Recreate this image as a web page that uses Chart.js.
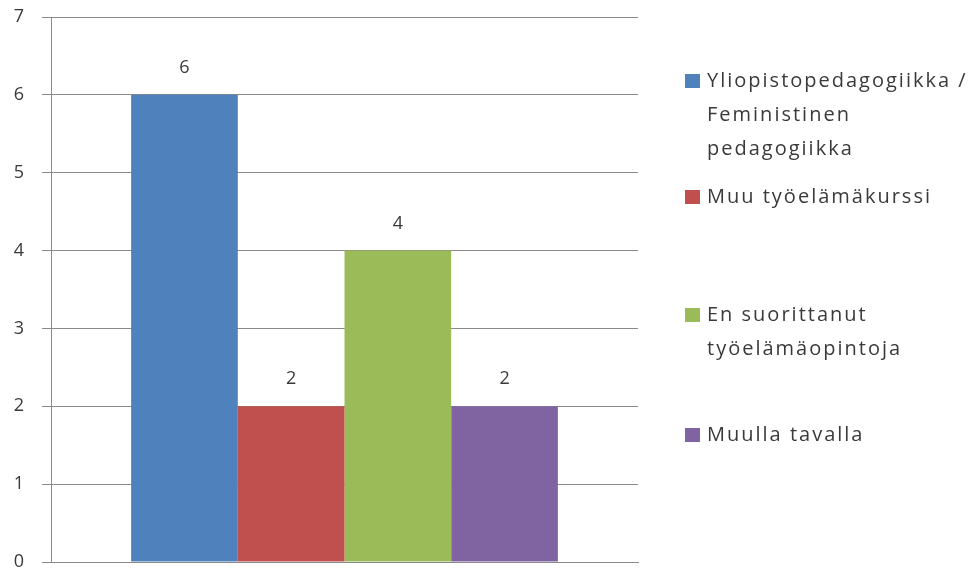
<!DOCTYPE html>
<html>
<head>
<meta charset="utf-8">
<script src="https://cdn.jsdelivr.net/npm/chart.js@4"></script>
<style>
  html,body{margin:0;padding:0;background:#fff;}
  #wrap{width:974px;height:568px;position:relative;}
</style>
</head>
<body>
<div id="wrap"><canvas id="barChart" width="974" height="568"></canvas></div>
<script>
// data
const categories = [''];
const seriesNames = [
  ['Yliopistopedagogiikka /', 'Feministinen', 'pedagogiikka'],
  ['Muu työelämäkurssi'],
  ['En suorittanut', 'työelämäopintoja'],
  ['Muulla tavalla']
];
const seriesValues = [[6], [2], [4], [2]];
const seriesColors = ['#4F81BD', '#C0504D', '#9BBB59', '#8064A2'];
const yTicks = [0, 1, 2, 3, 4, 5, 6, 7];

const textColor = '#3a3a3a';
const gridColor = '#8a8a8a';
const fontFamily = '"Open Sans", Lato, sans-serif';

// value above each bar
const barLabels = {
  id: 'barLabels',
  afterDatasetsDraw(chart){
    const ctx = chart.ctx;
    ctx.save();
    ctx.fillStyle = textColor;
    ctx.font = '18px ' + fontFamily;
    ctx.textAlign = 'center';
    ctx.textBaseline = 'middle';
    chart.data.datasets.forEach((ds, i) => {
      chart.getDatasetMeta(i).data.forEach((bar, j) => {
        ctx.fillText(String(ds.data[j]), bar.x, bar.y - 27);
      });
    });
    ctx.restore();
  }
};

// legend on the right, multi-line entries like the original
const sideLegend = {
  id: 'sideLegend',
  afterDraw(chart){
    const ctx = chart.ctx;
    const rowY = [81, 197, 315, 435];
    const lineH = 34;
    ctx.save();
    ctx.font = '20px ' + fontFamily;
    ctx.letterSpacing = '2px';
    ctx.textBaseline = 'middle';
    seriesNames.forEach((lines, i) => {
      ctx.fillStyle = seriesColors[i];
      ctx.fillRect(685, rowY[i] - 7, 15, 14);
      ctx.fillStyle = textColor;
      lines.forEach((t, k) => ctx.fillText(t, 707, rowY[i] + k * lineH));
    });
    ctx.restore();
  }
};

new Chart(document.getElementById('barChart').getContext('2d'), {
  type: 'bar',
  data: {
    labels: categories,
    datasets: seriesNames.map((n, i) => ({
      label: n.join(' '),
      data: seriesValues[i],
      backgroundColor: seriesColors[i],
      borderWidth: 0,
      barPercentage: 1,
      categoryPercentage: 0.727
    }))
  },
  options: {
    responsive: false,
    animation: false,
    layout: { padding: { top: 17, right: 336, bottom: 6, left: 0 } },
    plugins: { legend: { display: false }, tooltip: { enabled: false } },
    scales: {
      x: {
        grid: { display: false, drawTicks: false },
        ticks: { display: false },
        border: { display: true, color: gridColor, width: 1 }
      },
      y: {
        min: 0,
        max: 7,
        afterBuildTicks(scale){ scale.ticks = yTicks.map(v => ({ value: v })); },
        afterFit(scale){ scale.width = 51; scale.paddingTop = 0; scale.paddingBottom = 0; },
        ticks: { color: textColor, font: { size: 18, family: fontFamily }, padding: 18 },
        grid: { color: gridColor, lineWidth: 1, tickLength: 9 },
        border: { display: true, color: gridColor, width: 1 }
      }
    }
  },
  plugins: [barLabels, sideLegend]
});
</script>
</body>
</html>
